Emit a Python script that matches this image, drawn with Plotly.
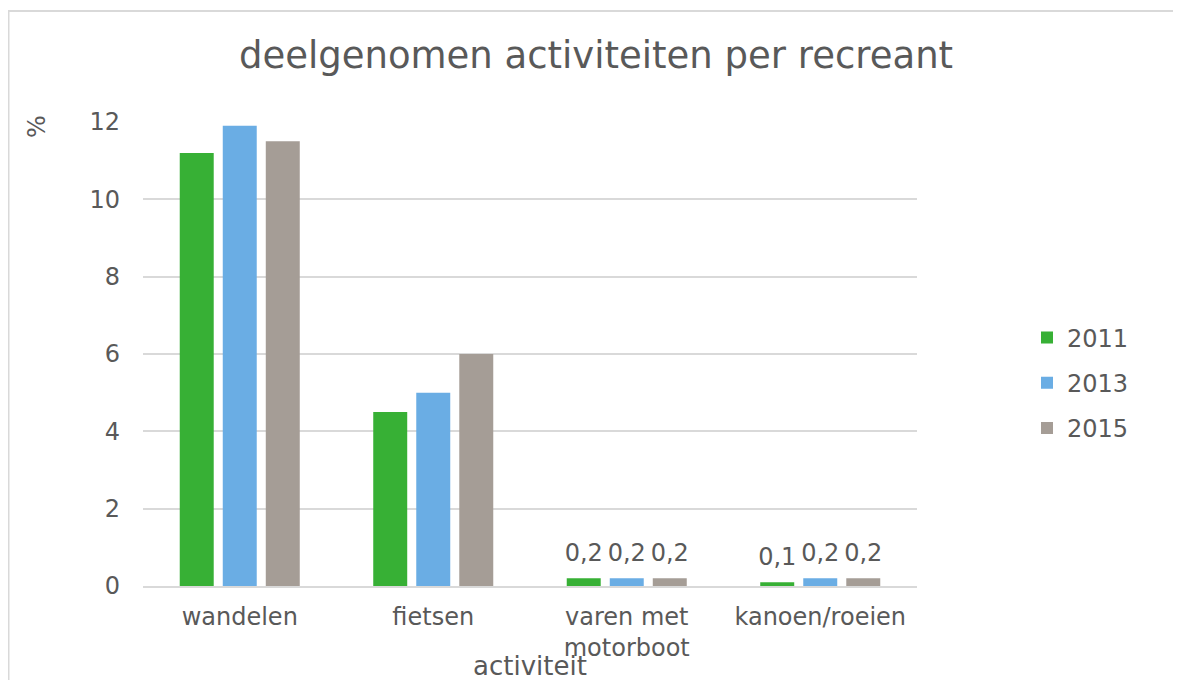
import plotly.graph_objects as go

categories = ["wandelen", "fietsen", "varen met<br>motorboot", "kanoen/roeien"]
years = ["2011", "2013", "2015"]
values_2011 = [11.2, 4.5, 0.2, 0.1]
values_2013 = [11.9, 5.0, 0.2, 0.2]
values_2015 = [11.5, 6.0, 0.2, 0.2]
colors = ["#37B035", "#6AADE4", "#A59D96"]
y_ticks = [0, 2, 4, 6, 8, 10, 12]

FONT = "DejaVu Sans"
TXT = "#595959"
OFF = 8  # page body margin

fig = go.Figure()
for name, vals, col in zip(years, [values_2011, values_2013, values_2015], colors):
    fig.add_trace(go.Bar(
        name=name, x=categories, y=vals, marker=dict(color=col, line=dict(width=0)),
        legendgroup=name, offsetgroup=name,
    ))
for name, vals in zip(years, [values_2011, values_2013, values_2015]):
    labels = [f"{v:.1f}".replace(".", ",") if v < 1 else "" for v in vals]
    fig.add_trace(go.Scatter(
        x=categories, y=vals, mode="markers+text", text=labels, textposition="top center",
        marker=dict(size=16, opacity=0), textfont=dict(family=FONT, size=24, color=TXT),
        showlegend=False, hoverinfo="skip", offsetgroup=name, cliponaxis=False,
    ))

L, T = 143 - OFF, 122 - OFF
PW, PH = 774, 464
fig.update_layout(
    width=1181, height=680,
    margin=dict(l=L, r=1181 - L - PW, t=T, b=680 - T - PH),
    paper_bgcolor="white", plot_bgcolor="white",
    barmode="group", bargap=0.333, bargroupgap=0.21,
    scattermode="group", scattergap=0.333,
    separators=",.",
    font=dict(family=FONT, color=TXT, size=24),
    title=dict(text="deelgenomen activiteiten per recreant", x=(596 - OFF) / 1181, xanchor="center",
               y=1 - (55 - OFF) / 680, yanchor="middle",
               font=dict(family=FONT, size=37, color=TXT)),
    xaxis=dict(showgrid=False, showline=True, linecolor="#D9D9D9", linewidth=2,
               ticks="", tickfont=dict(size=24, color=TXT), ticklabelstandoff=8),
    yaxis=dict(range=[0, 12], tickvals=y_ticks, showgrid=True, gridcolor="#D9D9D9", gridwidth=2,
               zeroline=False, showline=False, ticks="", ticklabelstandoff=22,
               tickfont=dict(size=24, color=TXT)),
    legend=dict(x=(1027 - OFF) / 1181, xref="container", xanchor="left",
                y=1 - (383 - OFF) / 680, yref="container", yanchor="middle",
                font=dict(size=24, color=TXT), tracegroupgap=11, itemwidth=30),
    shapes=[dict(type="rect", xref="paper", yref="paper",
                 x0=(8.5 - 143) / PW, x1=(1195 - 143) / PW,
                 y0=(585 - 700) / PH, y1=(585 - 10) / PH,
                 line=dict(color="#D9D9D9", width=2), fillcolor="rgba(0,0,0,0)", layer="below")],
    annotations=[
        dict(text="%", xref="paper", yref="paper", x=(37 - 143) / PW, y=(585 - 126) / PH,
             textangle=-90, showarrow=False, xanchor="center", yanchor="middle",
             font=dict(size=24, color=TXT)),
        dict(text="activiteit", xref="paper", yref="paper", x=0.5, y=(585 - 665) / PH,
             showarrow=False, xanchor="center", yanchor="middle",
             font=dict(size=26, color=TXT)),
    ],
)

fig.write_html("out.html")
